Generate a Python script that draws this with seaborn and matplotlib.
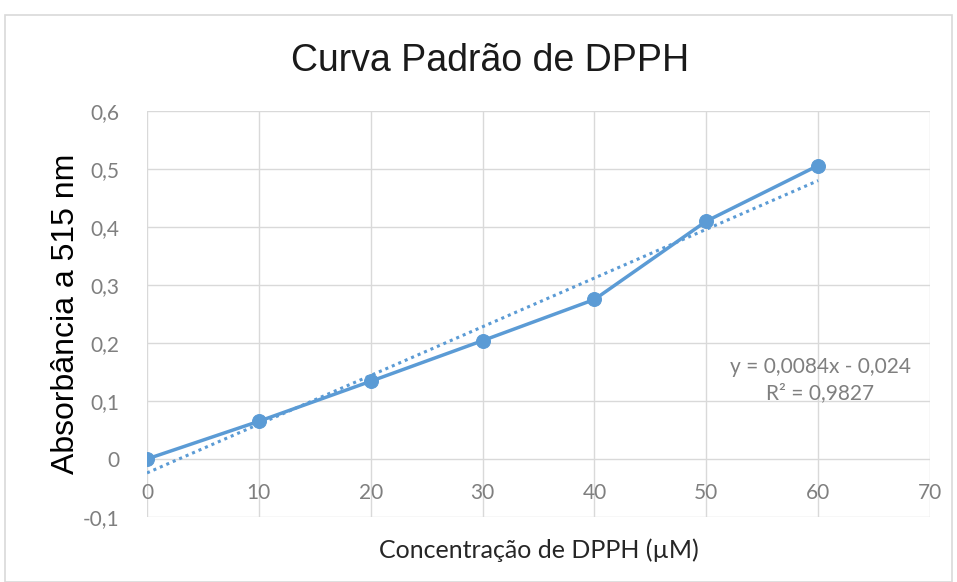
import matplotlib
matplotlib.use("Agg")
import matplotlib.pyplot as plt
import seaborn as sns
import numpy as np
import pandas as pd

conc = [0, 10, 20, 30, 40, 50, 60]
absorb = [0.0, 0.065, 0.134, 0.204, 0.275, 0.410, 0.506]
slope = 0.0084
intercept = -0.024
eq_text = "y = 0,0084x - 0,024"
r2_text = "R² = 0,9827"
xticks = [0, 10, 20, 30, 40, 50, 60, 70]
yticks = [-0.1, 0, 0.1, 0.2, 0.3, 0.4, 0.5, 0.6]
ytick_labels = ["-0,1", "0", "0,1", "0,2", "0,3", "0,4", "0,5", "0,6"]

sns.set_theme(style="white")
plt.rcParams['font.family'] = ['Liberation Sans', 'DejaVu Sans']

fig = plt.figure(figsize=(9.57, 5.82), dpi=100)
ax = fig.add_axes([0.1536, 0.1117, 0.8182, 0.6976])

blue = "#5B9BD5"
df = pd.DataFrame({"x": conc, "y": absorb})
trend = pd.DataFrame({"x": [conc[0], conc[-1]],
                      "y": [slope * conc[0] + intercept, slope * conc[-1] + intercept]})
sns.lineplot(data=trend, x="x", y="y", ax=ax, color=blue, linestyle=(0, (1, 1.3)),
             linewidth=2.2, zorder=3)
sns.lineplot(data=df, x="x", y="y", ax=ax, color=blue, marker="o", markersize=10,
             markeredgecolor=blue, linewidth=2.5, zorder=4)

ax.set_xlim(0, 70)
ax.set_ylim(-0.1, 0.6)
ax.set_xticks(xticks)
ax.set_yticks(yticks)
ax.grid(True, color="#D9D9D9", linewidth=1)
for s in ax.spines.values():
    s.set_visible(False)
ax.set_xticklabels([])
ax.set_yticklabels(ytick_labels, family=["Lato", "DejaVu Sans"], color="#7F7F7F", fontsize=15)
ax.tick_params(axis="y", length=0, pad=20)
ax.tick_params(axis="x", length=0)
for v in xticks:
    ax.text(v, -0.058, str(v), ha="center", va="center", color="#7F7F7F",
            fontsize=15, family=["Lato", "DejaVu Sans"])

ax.set_xlabel("Concentração de DPPH (µM)", fontsize=18, color="#262626",
              family=["Lato", "DejaVu Sans"], labelpad=12)
ax.set_ylabel("Absorbância a 515 nm", fontsize=23, color="#000000", labelpad=1)
fig.text(0.512, 0.895, "Curva Padrão de DPPH", ha="center", va="center", fontsize=27,
         color="#1a1a1a")

ax.text(0.857, 0.369, eq_text, transform=fig.transFigure, ha="center", va="center",
        fontsize=15, color="#7F7F7F", family=["Lato", "DejaVu Sans"])
ax.text(0.857, 0.325, r2_text, transform=fig.transFigure, ha="center", va="center",
        fontsize=15, color="#7F7F7F", family=["Lato", "DejaVu Sans"])

fig.patches.append(plt.Rectangle((0.005, 0.0), 0.99, 0.975, transform=fig.transFigure,
                                 fill=False, edgecolor="#D9D9D9", linewidth=1.2))
if ax.get_legend():
    ax.get_legend().remove()
fig.savefig("out.png", dpi=100)
